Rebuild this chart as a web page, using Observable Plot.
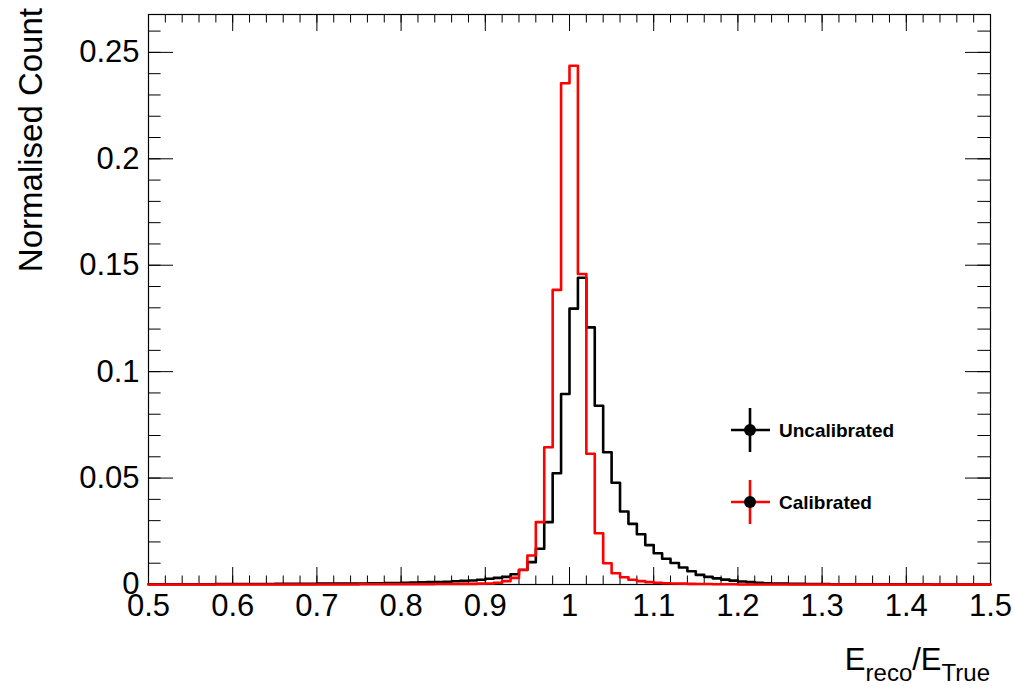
<!DOCTYPE html>
<html><head><meta charset="utf-8">
<script src="https://cdn.jsdelivr.net/npm/d3@7"></script>
<script src="https://cdn.jsdelivr.net/npm/@observablehq/plot@0.6"></script>
<style>
html,body{margin:0;padding:0;background:#fff;}
#chart{width:1014px;height:686px;}
</style></head><body><div id="chart"></div>
<script>
// Histogram binning: 100 bins of width 0.01 from 0.5 to 1.5
const binStart = 0.5;
const binWidth = 0.01;

// Uncalibrated (black) normalised counts, bins 0.50 ... 1.49
const uncalibrated = [
  0.0001,0.0001,0.0001,0.0001,0.0001,0.0001,0.0001,0.0001,0.0002,0.0002,
  0.0002,0.0002,0.0002,0.0002,0.0002,0.0003,0.0003,0.0003,0.0003,0.0003,
  0.0004,0.0004,0.0004,0.0005,0.0005,0.0005,0.0006,0.0006,0.0007,0.0007,
  0.0008,0.0009,0.0010,0.0011,0.0012,0.0013,0.0015,0.0017,0.0019,0.0022,
  0.0027,0.0031,0.0036,0.0048,0.0068,0.0105,0.0168,0.0293,0.0523,0.0895,
  0.1296,0.1441,0.1208,0.0840,0.0621,0.0478,0.0343,0.0285,0.0236,0.0185,
  0.0147,0.0121,0.0101,0.0080,0.0062,0.0045,0.0036,0.0029,0.0023,0.0018,
  0.0014,0.0011,0.0008,0.0006,0.0005,0.0004,0.0003,0.0003,0.0002,0.0002,
  0.0002,0.0001,0.0001,0.0001,0.0001,0.0001,0.0001,0.0001,0.0001,0.0001,
  0.0001,0.0001,0.0001,0.0000,0.0000,0.0000,0.0000,0.0000,0.0000,0.0000
];

// Calibrated (red) normalised counts, bins 0.50 ... 1.49
const calibrated = [
  0.0000,0.0000,0.0000,0.0000,0.0000,0.0000,0.0000,0.0000,0.0000,0.0000,
  0.0000,0.0000,0.0000,0.0000,0.0000,0.0000,0.0000,0.0000,0.0000,0.0000,
  0.0000,0.0000,0.0000,0.0000,0.0000,0.0001,0.0001,0.0001,0.0001,0.0001,
  0.0001,0.0001,0.0001,0.0001,0.0002,0.0002,0.0002,0.0003,0.0003,0.0004,
  0.0005,0.0008,0.0016,0.0031,0.0069,0.0136,0.0293,0.0645,0.1384,0.2355,
  0.2437,0.1459,0.0614,0.0241,0.0100,0.0053,0.0034,0.0022,0.0016,0.0011,
  0.0008,0.0006,0.0005,0.0004,0.0003,0.0002,0.0002,0.0001,0.0001,0.0001,
  0.0000,0.0000,0.0000,0.0000,0.0000,0.0000,0.0000,0.0000,0.0000,0.0000,
  0.0000,0.0000,0.0000,0.0000,0.0000,0.0000,0.0000,0.0000,0.0000,0.0000,
  0.0000,0.0000,0.0000,0.0000,0.0000,0.0000,0.0000,0.0000,0.0000,0.0000
];

const xTicks = [0.5, 0.6, 0.7, 0.8, 0.9, 1, 1.1, 1.2, 1.3, 1.4, 1.5];
const yTicks = [0, 0.05, 0.1, 0.15, 0.2, 0.25];
const seriesNames = ["Uncalibrated", "Calibrated"];
const seriesColors = ["#000000", "#ff0000"];

const W = 1014, H = 686;
const mL = 148, mR = 24, mT = 14, mB = 102;
const plotW = W - mL - mR, plotH = H - mT - mB;

function stepPoints(values, series) {
  const pts = values.map((v, i) => ({x: binStart + i * binWidth, y: v, series}));
  pts.push({x: binStart + values.length * binWidth, y: values[values.length - 1], series});
  return pts;
}
const uncalPts = stepPoints(uncalibrated, seriesNames[0]);
const calPts = stepPoints(calibrated, seriesNames[1]);

const minorX = d3.range(0, 51).map(i => 0.5 + i * 0.02).filter(v => v <= 1.5001);
const minorY = d3.range(0, 27).map(i => i * 0.01);

const fmt = d => String(+d.toFixed(3));

const chart = Plot.plot({
  width: W, height: H,
  marginLeft: mL, marginRight: mR, marginTop: mT, marginBottom: mB,
  x: {domain: [0.5, 1.5]},
  y: {domain: [0, 0.2678]},
  style: {fontFamily: "'Liberation Sans', Arial, Helvetica, sans-serif", background: "white", color: "black"},
  marks: [
    // inward ticks: bottom & top (x), left & right (y)
    Plot.tickX(minorX, {x: d => d, insetTop: plotH - 8.5, stroke: "black", strokeWidth: 1}),
    Plot.tickX(minorX, {x: d => d, insetBottom: plotH - 8.5, stroke: "black", strokeWidth: 1}),
    Plot.tickX(xTicks, {x: d => d, insetTop: plotH - 17, stroke: "black", strokeWidth: 1}),
    Plot.tickX(xTicks, {x: d => d, insetBottom: plotH - 17, stroke: "black", strokeWidth: 1}),
    Plot.tickY(minorY, {y: d => d, insetRight: plotW - 12.6, stroke: "black", strokeWidth: 1}),
    Plot.tickY(minorY, {y: d => d, insetLeft: plotW - 12.6, stroke: "black", strokeWidth: 1}),
    Plot.tickY(yTicks, {y: d => d, insetRight: plotW - 25, stroke: "black", strokeWidth: 1}),
    Plot.tickY(yTicks, {y: d => d, insetLeft: plotW - 25, stroke: "black", strokeWidth: 1}),
    Plot.frame({stroke: "black", strokeWidth: 1.2}),
    Plot.line(uncalPts, {x: "x", y: "y", curve: "step-after", stroke: seriesColors[0], strokeWidth: 2.6}),
    Plot.line(calPts, {x: "x", y: "y", curve: "step-after", stroke: seriesColors[1], strokeWidth: 2.6}),
    Plot.axisX({ticks: xTicks, tickSize: 0, tickPadding: 9, fontSize: 31, tickFormat: fmt, label: null}),
    Plot.axisY({ticks: yTicks, tickSize: 0, tickPadding: 9, fontSize: 31, tickFormat: fmt, label: null})
  ]
});
document.getElementById("chart").appendChild(chart);

const svg = d3.select(chart);
const ff = "'Liberation Sans', Arial, Helvetica, sans-serif";

// Y axis title
svg.append("text")
  .attr("transform", "translate(42,8) rotate(-90)")
  .attr("text-anchor", "end").style("text-anchor", "end")
  .style("font-family", ff).style("font-size", "33px").attr("fill", "black")
  .text("Normalised Count");

// X axis title with subscripts
const xt = svg.append("text")
  .attr("x", 990).attr("y", 670).attr("text-anchor", "end").style("text-anchor", "end")
  .style("font-family", ff).style("font-size", "31px").attr("fill", "black");
xt.append("tspan").text("E");
xt.append("tspan").attr("dy", 11).style("font-size", "24px").text("reco");
xt.append("tspan").attr("dy", -11).text("/E");
xt.append("tspan").attr("dy", 11).style("font-size", "24px").text("True");

// Legend
const legendRows = [{name: seriesNames[0], color: seriesColors[0], cy: 430},
                    {name: seriesNames[1], color: seriesColors[1], cy: 502}];
const lg = svg.append("g");
legendRows.forEach(r => {
  lg.append("line").attr("x1", 731).attr("x2", 770).attr("y1", r.cy).attr("y2", r.cy)
    .attr("stroke", r.color).attr("stroke-width", 2.6);
  lg.append("line").attr("x1", 750).attr("x2", 750).attr("y1", r.cy - 22).attr("y2", r.cy + 22)
    .attr("stroke", r.color).attr("stroke-width", 2.6);
  lg.append("circle").attr("cx", 750).attr("cy", r.cy).attr("r", 6).attr("fill", "black");
  lg.append("text").attr("x", 779).attr("y", r.cy + 7)
    .attr("text-anchor", "start").style("text-anchor", "start")
    .style("font-family", ff).style("font-size", "19px").style("font-weight", "bold")
    .attr("fill", "black").text(r.name);
});
</script>
</body></html>
